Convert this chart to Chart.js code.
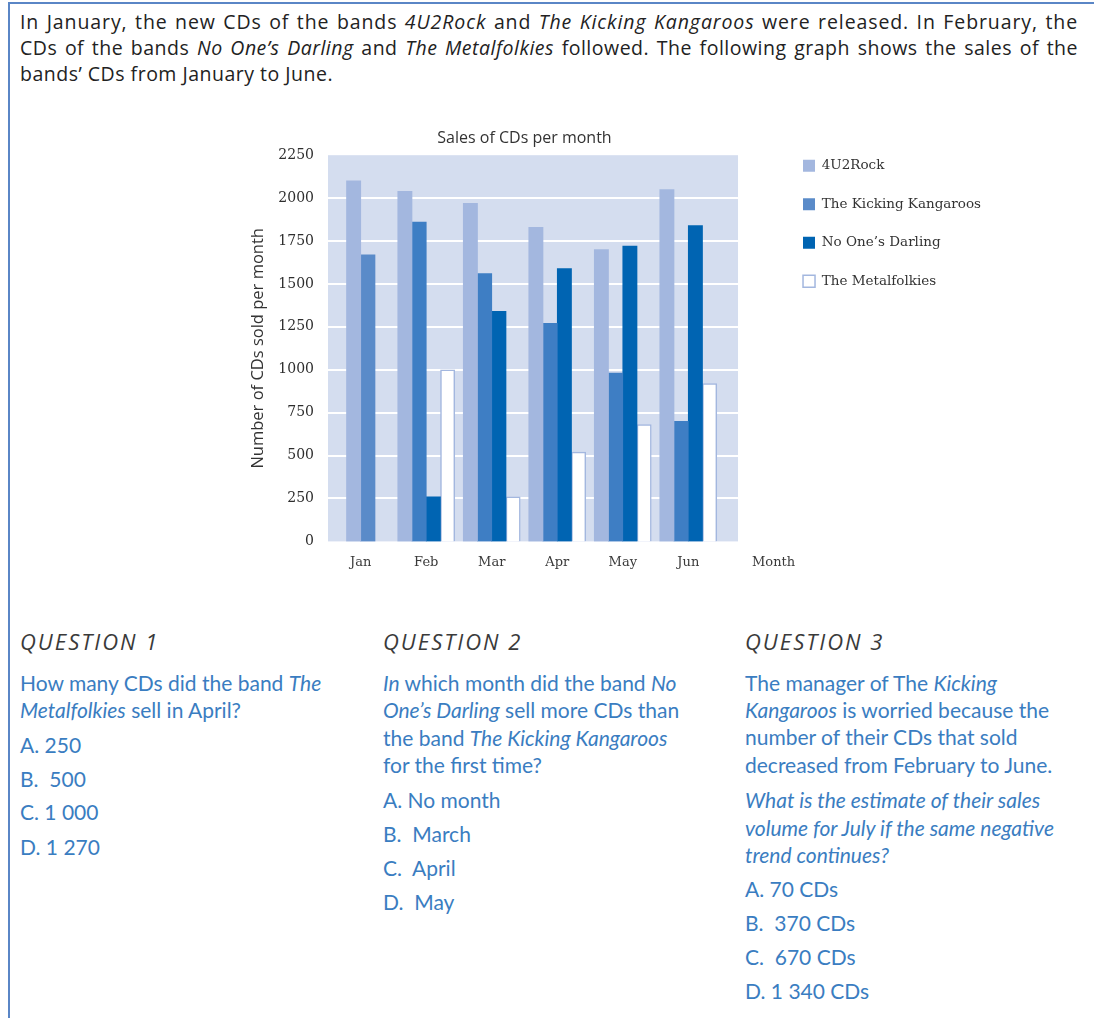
<!DOCTYPE html>
<html>
<head>
<meta charset="utf-8">
<title>Sales of CDs per month</title>
<script src="https://cdn.jsdelivr.net/npm/chart.js@4.4.1/dist/chart.umd.min.js"></script>
<style>
  body {
    margin: 0;
    width: 1094px;
    height: 1018px;
    overflow: hidden;
    position: relative;
    background: #fff;
    font-family: "Open Sans", sans-serif;
  }
  .frame {
    position: absolute;
    left: 8px;
    top: 2px;
    right: 0;
    bottom: -10px;
    border-left: 2px solid #5a86c6;
    border-top: 2px solid #5a86c6;
  }
  .intro {
    position: absolute;
    left: 20px;
    top: 9px;
    font-size: 19.5px;
    letter-spacing: 0.5px;
    line-height: 26px;
    color: #222;
    white-space: nowrap;
  }
  .intro .full {
    width: 1058px;
    text-align: justify;
    text-align-last: justify;
  }
  .intro .wide { letter-spacing: 0.9px; }
  #chartBox {
    position: absolute;
    left: 245px;
    top: 129px;
    height: 454px;
  }
  .ln {
    position: absolute;
    height: 28px;
    line-height: 28px;
    white-space: nowrap;
    font-family: Lato, sans-serif;
    font-size: 21px;
    color: #3a7dc1;
  }
  .qh {
    font-family: "Open Sans", sans-serif;
    font-style: italic;
    font-size: 22px;
    letter-spacing: 2px;
    color: #3a3a3a;
  }
</style>
</head>
<body>
<div class="frame"></div>

<div class="intro">
  <div class="full wide">In January, the new CDs of the bands <i>4U2Rock</i> and <i>The Kicking Kangaroos</i> were released. In February, the</div>
  <div class="full">CDs of the bands <i>No One’s Darling</i> and <i>The Metalfolkies</i> followed. The following graph shows the sales of the</div>
  <div>bands’ CDs from January to June.</div>
</div>

<div id="chartBox"><canvas id="cdChart"></canvas></div>

<!-- question 1 -->
<div class="ln qh" style="left:20px; top:627px">QUESTION 1</div>
<div class="ln" style="left:20px; top:669px">How many CDs did the band <i>The</i></div>
<div class="ln" style="left:20px; top:696px"><i>Metalfolkies</i> sell in April?</div>
<div class="ln" style="left:20px; top:731px">A. 250</div>
<div class="ln" style="left:20px; top:765px">B.&nbsp; 500</div>
<div class="ln" style="left:20px; top:798px">C. 1 000</div>
<div class="ln" style="left:20px; top:833px">D. 1 270</div>

<!-- question 2 -->
<div class="ln qh" style="left:383px; top:627px">QUESTION 2</div>
<div class="ln" style="left:383px; top:669px"><i>In</i> which month did the band <i>No</i></div>
<div class="ln" style="left:383px; top:696px"><i>One’s Darling</i> sell more CDs than</div>
<div class="ln" style="left:383px; top:724px">the band <i>The Kicking Kangaroos</i></div>
<div class="ln" style="left:383px; top:751px">for the first time?</div>
<div class="ln" style="left:383px; top:786px">A. No month</div>
<div class="ln" style="left:383px; top:820px">B.&nbsp; March</div>
<div class="ln" style="left:383px; top:854px">C.&nbsp; April</div>
<div class="ln" style="left:383px; top:888px">D.&nbsp; May</div>

<!-- question 3 -->
<div class="ln qh" style="left:745px; top:627px">QUESTION 3</div>
<div class="ln" style="left:745px; top:669px">The manager of The <i>Kicking</i></div>
<div class="ln" style="left:745px; top:696px"><i>Kangaroos</i> is worried because the</div>
<div class="ln" style="left:745px; top:723px">number of their CDs that sold</div>
<div class="ln" style="left:745px; top:751px">decreased from February to June.</div>
<div class="ln" style="left:745px; top:786px"><i>What is the estimate of their sales</i></div>
<div class="ln" style="left:745px; top:814px"><i>volume for July if the same negative</i></div>
<div class="ln" style="left:745px; top:841px"><i>trend continues?</i></div>
<div class="ln" style="left:745px; top:875px">A. 70 CDs</div>
<div class="ln" style="left:745px; top:909px">B.&nbsp; 370 CDs</div>
<div class="ln" style="left:745px; top:943px">C.&nbsp; 670 CDs</div>
<div class="ln" style="left:745px; top:977px">D. 1 340 CDs</div>

<script>
const months = ["Jan", "Feb", "Mar", "Apr", "May", "Jun"];
const bands = ["4U2Rock", "The Kicking Kangaroos", "No One’s Darling", "The Metalfolkies"];

// CDs sold per month (the last two bands only released in February)
const rock4u2 = [2100, 2040, 1970, 1830, 1700, 2050];
const kickingKangaroos = [1670, 1860, 1560, 1270, 980, 700];
const noOnesDarling = [null, 260, 1340, 1590, 1720, 1840];
const metalfolkies = [null, 1000, 260, 520, 680, 920];

const yMax = 2250;
const yStep = 250;

const tickFont = { family: "DejaVu Serif", size: 14 };
const legendFont = { family: "DejaVu Serif", size: 13.5 };

// size the box so the plot keeps its width whatever the legend text measures
const probe = document.createElement("canvas").getContext("2d");
probe.font = `${legendFont.size}px "${legendFont.family}"`;
const legendTextW = Math.max(...bands.map(b => probe.measureText(b).width));
const plotRight = 476;   // right edge of the plot inside the box
const gapWidth = 57;     // room for "Month" between plot and legend
const legendWidth = 25 + 12 + legendFont.size / 2 + legendTextW + 10;
document.getElementById("chartBox").style.width = (plotRight + gapWidth + legendWidth) + "px";

// light blue panel behind the bars, running a little past the last month
const plotPanel = {
    id: "plotPanel",
    beforeDatasetsDraw(chart) {
        const { ctx, chartArea: a, scales: { y } } = chart;
        const right = a.right + 17;
        ctx.save();
        ctx.fillStyle = "#d4ddef";
        ctx.fillRect(a.left, a.top, right - a.left, a.bottom - a.top);
        ctx.strokeStyle = "#ffffff";
        ctx.lineWidth = 2;
        y.ticks.forEach(t => {
            if (t.value <= 0 || t.value >= yMax) return;
            const py = Math.round(y.getPixelForValue(t.value));
            ctx.beginPath();
            ctx.moveTo(a.left, py);
            ctx.lineTo(right, py);
            ctx.stroke();
        });
        ctx.restore();
    },
    afterDraw(chart) {
        const { ctx, chartArea: a } = chart;
        ctx.save();
        ctx.fillStyle = "#3a3a3a";
        ctx.font = `13px "${tickFont.family}"`;
        ctx.textBaseline = "middle";
        ctx.fillText("Month", a.right + 31, a.bottom + 21);
        ctx.restore();
    }
};

const ctx = document.getElementById("cdChart").getContext("2d");
const cdChart = new Chart(ctx, {
    type: "bar",
    data: {
        labels: months,
        datasets: [
            {
                label: bands[0],
                data: rock4u2,
                backgroundColor: "#a3b7df",
                borderWidth: 0
            },
            {
                label: bands[1],
                data: kickingKangaroos,
                backgroundColor: c => (c.type === "data" && c.dataIndex === 0) ? "#5a8bc9" : "#3e7ec4",
                borderWidth: 0
            },
            {
                label: bands[2],
                data: noOnesDarling,
                backgroundColor: "#0064b2",
                borderWidth: 0
            },
            {
                label: bands[3],
                data: metalfolkies,
                backgroundColor: "#ffffff",
                borderColor: "#a3b7df",
                borderWidth: 1.5
            }
        ]
    },
    options: {
        responsive: true,
        maintainAspectRatio: false,
        animation: false,
        skipNull: true,
        barThickness: 14.25,
        layout: { padding: 0 },
        scales: {
            x: {
                grid: { display: false, drawTicks: false },
                border: { display: false },
                ticks: { padding: 13, color: "#3a3a3a", font: { family: "DejaVu Serif", size: 13 } }
            },
            y: {
                min: 0,
                max: yMax,
                ticks: {
                    stepSize: yStep,
                    padding: 14,
                    color: "#2e2e2e",
                    font: tickFont,
                    callback: v => String(v)
                },
                grid: { display: false, drawTicks: false },
                border: { display: false },
                title: {
                    display: true,
                    text: "Number of CDs sold per month",
                    color: "#333",
                    font: { family: "Open Sans", size: 16.5 },
                    padding: { top: 3, bottom: 13 }
                },
                afterFit(scale) { scale.width = 83; }
            },
            gap: {
                type: "linear",
                position: "right",
                display: true,
                grid: { display: false, drawTicks: false },
                border: { display: false },
                ticks: { display: false },
                afterFit(scale) { scale.width = gapWidth; }
            }
        },
        plugins: {
            title: {
                display: true,
                text: "Sales of CDs per month",
                fullSize: false,
                color: "#333",
                font: { family: "Open Sans", size: 16, weight: "normal" },
                padding: { top: 0, bottom: 7 }
            },
            legend: {
                position: "right",
                align: "start",
                maxWidth: legendWidth + 20,
                title: { display: true, text: "", padding: 0, font: { size: 5, lineHeight: 1 } },
                labels: {
                    boxWidth: 12,
                    boxHeight: 12,
                    padding: 25,
                    color: "#333",
                    font: legendFont
                }
            },
            tooltip: { enabled: false }
        }
    },
    plugins: [plotPanel]
});
</script>
</body>
</html>
